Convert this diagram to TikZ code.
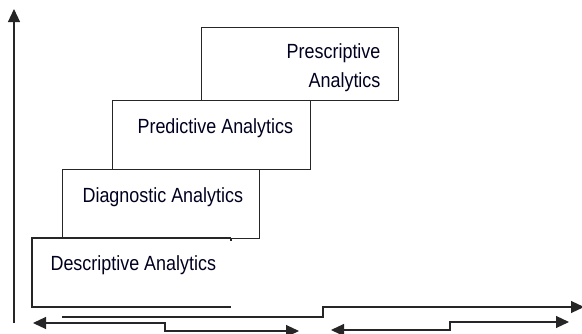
\documentclass[tikz,border=0pt]{standalone}
\usepackage{fontspec}
\setmainfont[FakeStretch=0.875]{Liberation Sans}
\usetikzlibrary{arrows.meta}
\begin{document}
\begin{tikzpicture}[x=1pt,y=-1pt,
  line width=1.15pt, draw=black!85,
  stagebox/.style={draw, rectangle, inner sep=0pt, anchor=north west},
  label/.style={font=\fontsize{20.5}{29}\selectfont, inner sep=0pt, text=black!88!blue},
  tip/.style={-{Triangle[length=13pt,width=12pt]}},
  tips/.style={{Triangle[length=13pt,width=12pt]}-{Triangle[length=13pt,width=12pt]}}]
\useasboundingbox (0,0) rectangle (582,333);

% stacked stage boxes
\node[stagebox, minimum width=197pt, minimum height=73pt] (presc) at (201,27) {};
\node[stagebox, minimum width=198pt, minimum height=69pt] (pred) at (112,100) {};
\node[stagebox, minimum width=197pt, minimum height=69pt] (diag) at (62,169) {};
% lowest box is open on its right side
\coordinate (descTL) at (32,238);
\coordinate (descTR) at (231,238);
\coordinate (descBL) at (32,307);
\coordinate (descBR) at (231,307);
\draw (descTR) -- (descTL) -- (descBL) -- (descBR);
\draw (descTR) -- ++(0,3);

% stage labels
\node[label, anchor=east, align=right] (prescT) at (381,67.5) {Prescriptive\\Analytics};
\node[label, anchor=west] (predT) at (137,128) {Predictive Analytics};
\node[label, anchor=west] (diagT) at (82,197) {Diagnostic Analytics};
\node[label, anchor=west] (descT) at (50,265) {Descriptive Analytics};

% vertical axis
\coordinate (yaxisB) at (14,323);
\coordinate (yaxisT) at (14,9);
\draw[tip] (yaxisB) -- (yaxisT);

% stepped horizontal arrows
\coordinate (h1s) at (62,317);
\coordinate (h1e) at (584,307);
\draw[tip] (h1s) -- (323,317) -- (323,307) -- (h1e);

\coordinate (h2s) at (33,323);
\coordinate (h2e) at (299,331);
\draw[tips] (h2s) -- (165,323) -- (165,331) -- (h2e);

\coordinate (h3s) at (331,330);
\coordinate (h3e) at (569,322);
\draw[tips] (h3s) -- (450,330) -- (450,322) -- (h3e);
\end{tikzpicture}
\end{document}
